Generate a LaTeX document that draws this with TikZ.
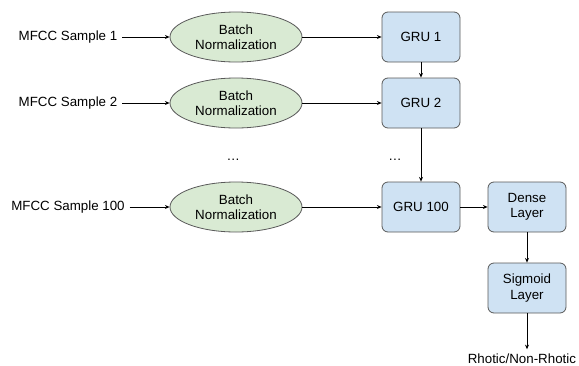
\documentclass[tikz,border=0pt]{standalone}
\usepackage{fontspec}
\setmainfont{Liberation Sans}
\usetikzlibrary{shapes.geometric,arrows.meta}
\definecolor{normgreen}{HTML}{D9EAD3}
\definecolor{layerblue}{HTML}{CFE2F3}

\begin{document}
\begin{tikzpicture}[->, >={Stealth[length=3.5pt,width=3pt]}, line width=0.6pt, node distance=126pt,
  norm node/.style={ellipse, draw=black!65, fill=normgreen, minimum width=99pt, minimum height=37.5pt, inner sep=0pt, align=center},
  layer node/.style={rectangle, rounded corners=4.5pt, draw=black!65, fill=layerblue, minimum width=58.5pt, minimum height=37.5pt, align=center}]
        \tikzstyle{every node}=[font=\fontsize{10}{11.5}\selectfont]
        \useasboundingbox (-51pt,27.75pt) rectangle (383.25pt,-246pt);

          \node (1) {MFCC Sample 1};
          \node[norm node] (2) [right of=1] {Batch\\Normalization};
          \node[layer node] (3) [node distance=138.75pt, right of=2] {GRU 1};
          \node (4) [node distance=49.5pt, below of=1] {MFCC Sample 2};
          \node[norm node] (5) [right of=4] {Batch\\Normalization};
          \node[layer node] (6) [node distance=138.75pt, right of=5] {GRU 2};
          \node (7) [node distance=42.75pt, below of=5, xshift=-2pt] {\dots};
          \node (8) [node distance=42.75pt, below of=6, xshift=-19.5pt] {\dots};
          \node (9) [node distance=78pt, below of=4] {MFCC Sample 100};
          \node[norm node] (10) [right of=9] {Batch\\Normalization};
          \node[layer node] (11) [node distance=138.75pt, right of=10] {GRU 100};
          \node[layer node] (12) [node distance=79.5pt, right of=11] {Dense\\Layer};
          \node[layer node] (13) [node distance=60.75pt, below of=12] {Sigmoid\\Layer};
          \node (14) [node distance=53.25pt, below of=13, xshift=-3.8pt] {Rhotic/Non-Rhotic};

          \path
            (1) edge (2)
            (2) edge (3)
            (3) edge (6)
            (4) edge (5)
            (5) edge (6)
            (6) edge (11)
            (9) edge (10)
            (10) edge (11)
            (11) edge (12)
            (12) edge (13)
            (13) edge (13 |- 14.north);

        \end{tikzpicture}
\end{document}
